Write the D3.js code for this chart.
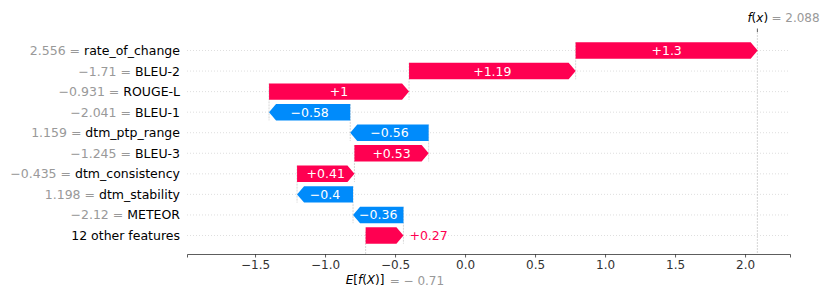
<!DOCTYPE html>
<html>
<head>
<meta charset="utf-8">
<script src="https://cdn.jsdelivr.net/npm/d3@7"></script>
<style>
  body { margin: 0; background: #fff; }
  svg text { font-family: "DejaVu Sans", sans-serif; }
</style>
</head>
<body>
<svg width="830" height="302"></svg>
<script>
// waterfall rows, top to bottom
const features = ['rate_of_change', 'BLEU-2', 'ROUGE-L', 'BLEU-1', 'dtm_ptp_range',
  'BLEU-3', 'dtm_consistency', 'dtm_stability', 'METEOR', '12 other features'];
const featureValues = ['2.556', '−1.71', '−0.931', '−2.041', '1.159',
  '−1.245', '−0.435', '1.198', '−2.12', null];
const shapValues = [1.3, 1.19, 1, -0.58, -0.56, 0.53, 0.41, -0.4, -0.36, 0.27];
const baseValue = -0.71;
const fxValue = 2.088;
const xTicks = [-1.5, -1.0, -0.5, 0.0, 0.5, 1.0, 1.5, 2.0];

const red = '#ff0051', blue = '#008bfb';
const svg = d3.select('svg');

const x = d3.scaleLinear().domain([-1.986, 2.321]).range([187, 790]);
const y = d3.scaleLinear().domain([-0.9, 9.9]).range([32, 254]);
const step = y(1) - y(0);
const barH = 0.8 * step;
const headLen = 7;

const fmt = v => {
  let s = d3.format('+.2f')(v).replace(/0+$/, '').replace(/\.$/, '');
  return s.replace('-', '−');
};

// cumulative positions, built from the bottom row upwards
const rows = [];
let loc = baseValue;
for (let i = features.length - 1; i >= 0; i--) {
  const v = shapValues[i];
  rows[i] = {i: i, name: features[i], fval: featureValues[i], v: v, start: loc, end: loc + v};
  loc += v;
}

// horizontal dotted guides
svg.append('g').selectAll('line').data(rows).enter().append('line')
  .attr('x1', 187).attr('x2', 790)
  .attr('y1', d => y(d.i)).attr('y2', d => y(d.i))
  .attr('stroke', '#cccccc').attr('stroke-width', 0.8)
  .attr('stroke-dasharray', '0.8 2.2');

// vertical dashed connectors
svg.append('g').selectAll('line').data(rows.slice(0, rows.length - 1)).enter().append('line')
  .attr('x1', d => x(d.start)).attr('x2', d => x(d.start))
  .attr('y1', d => y(d.i) - 0.4 * step).attr('y2', d => y(d.i + 1) + 0.4 * step)
  .attr('stroke', '#bbbbbb').attr('stroke-width', 0.6)
  .attr('stroke-dasharray', '2 1');

// base value and f(x) lines
svg.append('line')
  .attr('x1', x(baseValue)).attr('x2', x(baseValue))
  .attr('y1', 254).attr('y2', 254 - 222 / features.length)
  .attr('stroke', '#bbbbbb').attr('stroke-width', 0.6).attr('stroke-dasharray', '2 1');
svg.append('line')
  .attr('x1', x(fxValue)).attr('x2', x(fxValue))
  .attr('y1', 32).attr('y2', 254)
  .attr('stroke', '#bbbbbb').attr('stroke-width', 0.6).attr('stroke-dasharray', '2 1');
svg.append('line')
  .attr('x1', x(fxValue)).attr('x2', x(fxValue))
  .attr('y1', 28.5).attr('y2', 32)
  .attr('stroke', '#333').attr('stroke-width', 0.8);

// arrows
const arrowPath = d => {
  const x0 = x(d.start), x1 = x(d.end);
  const yc = y(d.i), t = yc - barH / 2, b = yc + barH / 2;
  const dir = x1 > x0 ? 1 : -1;
  const hl = Math.min(headLen, Math.abs(x1 - x0));
  const xh = x1 - dir * hl;
  return `M${x0},${t}L${xh},${t}L${x1},${yc}L${xh},${b}L${x0},${b}Z`;
};
svg.append('g').selectAll('path').data(rows).enter().append('path')
  .attr('d', arrowPath)
  .attr('fill', d => d.v >= 0 ? red : blue);

// value labels
const labels = svg.append('g').selectAll('text').data(rows).enter().append('text')
  .attr('x', d => (x(d.start) + x(d.end)) / 2)
  .attr('y', d => y(d.i))
  .attr('dy', '0.36em')
  .attr('text-anchor', 'middle')
  .attr('font-size', 12.5)
  .attr('fill', 'white')
  .text(d => fmt(d.v));
labels.each(function(d) {
  const w = this.getComputedTextLength();
  const bw = Math.abs(x(d.end) - x(d.start));
  if (w + 4 > bw) {
    const t = d3.select(this);
    if (d.v >= 0) {
      t.attr('x', x(d.end) + 6).attr('text-anchor', 'start').attr('fill', red);
    } else {
      t.attr('x', x(d.end) - 6).attr('text-anchor', 'end').attr('fill', blue);
    }
  }
});

// feature labels
const ylab = svg.append('g').selectAll('text').data(rows).enter().append('text')
  .attr('x', 180).attr('y', d => y(d.i)).attr('dy', '0.36em')
  .attr('text-anchor', 'end').attr('font-size', 12.5);
ylab.filter(d => d.fval !== null).append('tspan').attr('fill', '#999999').text(d => d.fval + ' = ');
ylab.append('tspan').attr('fill', '#000').text(d => d.name);

// bottom axis
const axis = svg.append('g').attr('transform', 'translate(0,254)')
  .call(d3.axisBottom(x).tickValues(xTicks).tickSize(3.5).tickPadding(3)
    .tickFormat(d => d3.format('.1f')(d).replace('-', '−')));
axis.select('.domain').attr('stroke', '#333').attr('stroke-width', 0.8);
axis.selectAll('.tick line').attr('stroke', '#333').attr('stroke-width', 0.8);
axis.selectAll('.tick text').attr('font-size', 12).attr('fill', '#333')
  .attr('font-family', '"DejaVu Sans", sans-serif');

// E[f(X)] label
const eLab = svg.append('text').attr('x', x(baseValue) - 20).attr('y', 280).attr('dy', '0.36em')
  .attr('font-size', 12);
eLab.append('tspan').attr('font-style', 'italic').text('E');
eLab.append('tspan').text('[');
eLab.append('tspan').attr('font-style', 'italic').text('f');
eLab.append('tspan').text('(');
eLab.append('tspan').attr('font-style', 'italic').text('X');
eLab.append('tspan').text(')]');
svg.append('text').attr('x', x(baseValue) + 24).attr('y', 281).attr('dy', '0.36em')
  .attr('font-size', 12).attr('fill', '#999999')
  .text('= − ' + Math.abs(baseValue).toFixed(2));

// f(x) label
const fLab = svg.append('text').attr('x', x(fxValue) - 10).attr('y', 18).attr('dy', '0.36em')
  .attr('font-size', 12);
fLab.append('tspan').attr('font-style', 'italic').text('f');
fLab.append('tspan').text('(');
fLab.append('tspan').attr('font-style', 'italic').text('x');
fLab.append('tspan').text(')');
svg.append('text').attr('x', x(fxValue) + 14).attr('y', 18).attr('dy', '0.36em')
  .attr('font-size', 12).attr('fill', '#999999')
  .text('= ' + fxValue.toFixed(3));
</script>
</body>
</html>
